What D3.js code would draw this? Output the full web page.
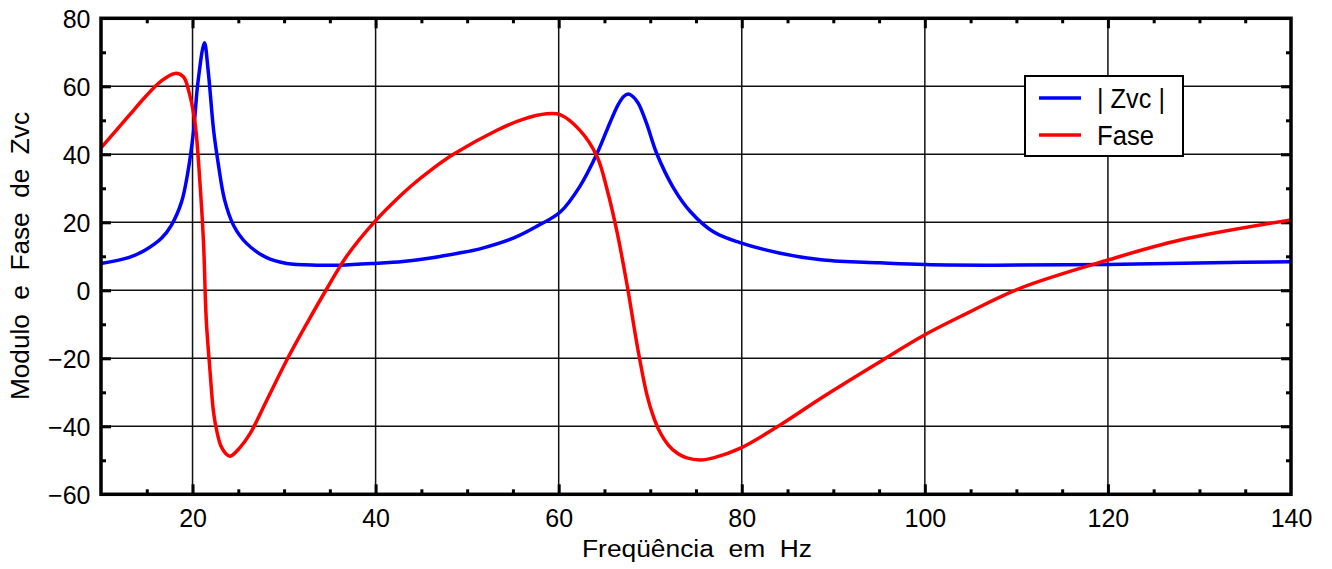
<!DOCTYPE html>
<html>
<head>
<meta charset="utf-8">
<script src="https://cdn.jsdelivr.net/npm/d3@7"></script>
<style>
  html, body { margin: 0; padding: 0; background: #fff; }
  text { font-family: "Liberation Sans", Arial, sans-serif; fill: #000; }
</style>
</head>
<body>
<svg id="chart" width="1332" height="569"></svg>
<script>
// ---- data ----
const zvcFreq = [10, 13, 14.8, 16.6, 17.7, 18.8, 19.5, 20.1, 20.6, 21.3, 21.7, 22.3, 22.8, 23.5, 24.5, 25.9, 28.1, 30.3, 33.6, 36.1, 39.8, 43, 46, 49, 51.4, 55.1, 57.6, 60.2, 62.3, 64.2, 65.6, 66.5, 67.1, 67.6, 68.1, 68.7, 69.6, 70.7, 72.5, 74.4, 76.9, 79.8, 84.2, 88.9, 95.1, 100, 107.9, 120, 131.5, 140];
const zvcValues = [7.9, 9.6, 11.8, 15.3, 19.2, 26, 34.9, 46.6, 61.4, 72.8, 64.8, 47.1, 37.4, 26.6, 19, 13.8, 9.6, 7.9, 7.4, 7.4, 7.9, 8.5, 9.5, 10.9, 12.2, 15.4, 18.8, 23.1, 30.5, 40.3, 49.3, 54.6, 57, 57.7, 57, 55, 49.1, 40.3, 30.3, 23.1, 17.2, 14, 10.9, 8.9, 8.1, 7.6, 7.4, 7.6, 8.1, 8.4];

const faseFreq = [10, 13, 14.8, 16.6, 18.1, 19, 19.7, 20.3, 20.8, 21.2, 21.5, 21.9, 22.3, 22.7, 23.1, 23.6, 24.1, 25.2, 26.3, 28.1, 30.3, 32.5, 34.7, 36.8, 40, 42.7, 44.1, 46, 48.5, 53.2, 56, 58.7, 60.2, 62.3, 64.2, 65.3, 66.4, 67.5, 68.6, 69.6, 70.3, 71, 72, 73, 74, 75.5, 77, 79.8, 84.2, 88.9, 95.1, 100, 104.2, 110.4, 120, 127.9, 140];
const faseValues = [41.9, 51.2, 56.8, 61.6, 63.8, 62.8, 57.4, 48.6, 32, 14, -8.7, -23.4, -36, -42, -45.8, -47.9, -48.8, -46.2, -42.1, -32.4, -20.5, -9.7, 0.6, 9.9, 20.5, 27.8, 31.2, 35.3, 40, 47, 50.2, 51.9, 51.6, 47.1, 39.3, 29.5, 16.8, 1.1, -16.6, -30.3, -36.8, -41.4, -45.6, -48, -49.3, -49.9, -49.2, -46.5, -39.6, -31.3, -21, -13.1, -7.3, 0.6, 8.9, 14.8, 20.7];

const xTickLabels = [20, 40, 60, 80, 100, 120, 140];
const yTickLabels = [-60, -40, -20, 0, 20, 40, 60, 80];
const xGrid = [20, 40, 60, 80, 100, 120];
const yGrid = [-40, -20, 0, 20, 40, 60];
const xMinor = [15, 25, 30, 35, 45, 50, 55, 65, 70, 75, 85, 90, 95, 105, 110, 115, 125, 130, 135];
const yMinor = [-50, -30, -10, 10, 30, 50, 70];
const seriesNames = ["| Zvc |", "Fase"];
const seriesColors = ["#0000ff", "#ff0000"];
const xTitle = "Freqüência  em  Hz";
const yTitle = "Modulo  e  Fase  de  Zvc";

// ---- layout ----
const svg = d3.select("#chart");
const L = 101, R = 1291, T = 18.3, B = 494.3;
const x = d3.scaleLinear().domain([10, 140]).range([L, R]);
const y = d3.scaleLinear().domain([-60, 80]).range([B, T]);

// gridlines
const grid = svg.append("g").attr("stroke", "#111").attr("stroke-width", 1.5);
grid.selectAll(".gx").data(xGrid).enter().append("line")
  .attr("x1", d => x(d)).attr("x2", d => x(d)).attr("y1", T).attr("y2", B);
grid.selectAll(".gy").data(yGrid).enter().append("line")
  .attr("x1", L).attr("x2", R).attr("y1", d => y(d)).attr("y2", d => y(d));

// inward ticks on all four sides via d3 axes
function tickAxis(axisFn, scale, values, size, transform) {
  const g = svg.append("g").attr("transform", transform)
    .call(axisFn(scale).tickValues(values).tickSize(-size).tickFormat(""));
  g.select(".domain").remove();
  g.selectAll(".tick line").attr("stroke", "#000").attr("stroke-width", 3);
}
tickAxis(d3.axisBottom, x, xGrid, 10, `translate(0,${B})`);
tickAxis(d3.axisBottom, x, xMinor, 5, `translate(0,${B})`);
tickAxis(d3.axisTop, x, xGrid, 10, `translate(0,${T})`);
tickAxis(d3.axisTop, x, xMinor, 5, `translate(0,${T})`);
tickAxis(d3.axisLeft, y, yGrid, 10, `translate(${L},0)`);
tickAxis(d3.axisLeft, y, yMinor, 5, `translate(${L},0)`);
tickAxis(d3.axisRight, y, yGrid, 10, `translate(${R},0)`);
tickAxis(d3.axisRight, y, yMinor, 5, `translate(${R},0)`);

// tick labels
const fmt = d => d < 0 ? "\u2212" + Math.abs(d) : String(d);
const xl = svg.append("g").attr("transform", `translate(0,${B})`)
  .call(d3.axisBottom(x).tickValues(xTickLabels).tickSize(0).tickPadding(15).tickFormat(fmt));
xl.select(".domain").remove();
xl.selectAll("text").attr("font-size", 25).attr("font-family", "Liberation Sans, Arial, sans-serif").attr("fill", "#000");

const yl = svg.append("g").attr("transform", `translate(${L},0)`)
  .call(d3.axisLeft(y).tickValues(yTickLabels).tickSize(0).tickPadding(10.5).tickFormat(fmt));
yl.select(".domain").remove();
yl.selectAll("text").attr("font-size", 25).attr("font-family", "Liberation Sans, Arial, sans-serif").attr("fill", "#000").attr("dy", "0.36em");

// curves
const line = d3.line().x(d => x(d[0])).y(d => y(d[1])).curve(d3.curveCatmullRom.alpha(0.5));
const zvcData = zvcFreq.map((f, i) => [f, zvcValues[i]]);
const faseData = faseFreq.map((f, i) => [f, faseValues[i]]);
svg.append("path").datum(zvcData).attr("d", line)
  .attr("fill", "none").attr("stroke", seriesColors[0]).attr("stroke-width", 3.5).attr("stroke-linejoin", "round");
svg.append("path").datum(faseData).attr("d", line)
  .attr("fill", "none").attr("stroke", seriesColors[1]).attr("stroke-width", 3.5).attr("stroke-linejoin", "round");

// frame
svg.append("rect").attr("x", L).attr("y", T).attr("width", R - L).attr("height", B - T)
  .attr("fill", "none").attr("stroke", "#000").attr("stroke-width", 3.5);

// legend
const lg = svg.append("g");
lg.append("rect").attr("x", 1025).attr("y", 76).attr("width", 158).attr("height", 80)
  .attr("fill", "#fff").attr("stroke", "#000").attr("stroke-width", 2);
const legY = [98, 135];
const legW = [68, 57];
seriesNames.forEach((name, i) => {
  lg.append("line").attr("x1", 1039).attr("x2", 1081).attr("y1", legY[i]).attr("y2", legY[i])
    .attr("stroke", seriesColors[i]).attr("stroke-width", 3.5);
  lg.append("text").attr("x", 1097).attr("y", legY[i] + 10).attr("font-size", 27)
    .attr("textLength", legW[i]).attr("lengthAdjust", "spacingAndGlyphs").text(name);
});

// axis titles
svg.append("text").attr("x", 697).attr("y", 557).attr("text-anchor", "middle")
  .attr("font-size", 23.5).attr("textLength", 230).attr("lengthAdjust", "spacingAndGlyphs")
  .style("white-space", "pre").text(xTitle);
svg.append("text").attr("transform", "translate(29,256) rotate(-90)").attr("text-anchor", "middle")
  .attr("font-size", 26).attr("textLength", 288).attr("lengthAdjust", "spacingAndGlyphs")
  .style("white-space", "pre").text(yTitle);
</script>
</body>
</html>
